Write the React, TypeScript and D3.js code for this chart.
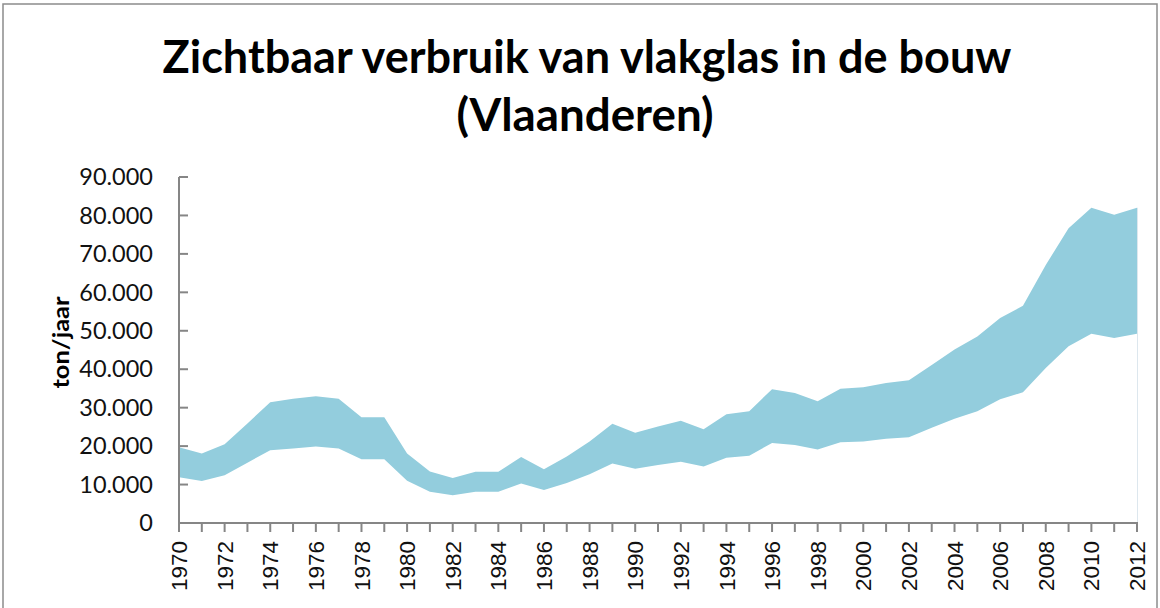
import React, { useEffect, useRef } from 'react';
import * as d3 from 'd3';

const WIDTH = 1160;
const HEIGHT = 608;
const PLOT = { left: 179, right: 1137, top: 177, bottom: 523 };

const TITLE_LINES = ['Zichtbaar verbruik van vlakglas in de bouw', '(Vlaanderen)'];
const Y_LABEL = 'ton/jaar';

const years = d3.range(1970, 2013);
// ondergrens en bovengrens (ton/jaar)
const lower = [
  11900, 10900, 12400, 15700, 18900, 19400, 19900, 19400, 16600, 16600,
  11000, 8100, 7200, 8100, 8100, 10300, 8600, 10400, 12700, 15500,
  14100, 15100, 15900, 14700, 17000, 17500, 20800, 20300, 19100, 21000,
  21200, 21900, 22300, 24800, 27100, 29100, 32200, 34000, 40300, 46000,
  49200, 48100, 49200,
];
const upper = [
  19700, 18100, 20500, 25900, 31400, 32300, 33000, 32300, 27500, 27500,
  18100, 13400, 11700, 13300, 13300, 17200, 14000, 17300, 21200, 25800,
  23500, 25100, 26600, 24400, 28300, 29100, 34800, 33800, 31700, 34900,
  35300, 36400, 37100, 41100, 45100, 48500, 53300, 56500, 67100, 76700,
  82000, 80200, 82000,
];
const yTicks = d3.range(0, 90001, 10000);
const xLabelYears = years.filter((y) => (y - 1970) % 2 === 0);

const AXIS_COLOR = '#868686';
const FILL = '#93cddd';

function App() {
  const ref = useRef<SVGSVGElement>(null);

  useEffect(() => {
    const svg = d3.select(ref.current);
    svg.selectAll('*').remove();

    const x = d3.scaleLinear().domain([1970, 2012]).range([PLOT.left, PLOT.right]);
    const y = d3.scaleLinear().domain([0, 90000]).range([PLOT.bottom, PLOT.top]);

    // kader
    svg.append('rect')
      .attr('x', 3).attr('y', 4)
      .attr('width', 1154).attr('height', 640)
      .attr('fill', 'none')
      .attr('stroke', '#8c8c8c')
      .attr('stroke-width', 1.5);

    // titel
    const title = svg.append('g')
      .attr('font-family', 'Lato, "Open Sans", sans-serif')
      .attr('font-weight', 700)
      .attr('font-size', 45)
      .attr('fill', '#000')
      .attr('text-anchor', 'middle');
    title.append('text')
      .attr('x', 587).attr('y', 73)
      .attr('textLength', 849)
      .attr('lengthAdjust', 'spacingAndGlyphs')
      .text(TITLE_LINES[0]);
    title.append('text')
      .attr('x', 585).attr('y', 131)
      .attr('textLength', 257)
      .attr('lengthAdjust', 'spacingAndGlyphs')
      .text(TITLE_LINES[1]);

    // band
    const data = years.map((yr, i) => ({ yr, lo: lower[i], hi: upper[i] }));
    const area = d3.area<{ yr: number; lo: number; hi: number }>()
      .x((d) => x(d.yr))
      .y0((d) => y(d.lo))
      .y1((d) => y(d.hi));
    svg.append('path')
      .datum(data)
      .attr('d', area)
      .attr('fill', FILL);

    // dunne lijn aan de rechterkant
    const last = data[data.length - 1];
    svg.append('line')
      .attr('x1', x(last.yr) + 0.5).attr('x2', x(last.yr) + 0.5)
      .attr('y1', y(last.hi)).attr('y2', PLOT.bottom)
      .attr('stroke', '#dde7ee')
      .attr('stroke-width', 1);

    // y-as
    const yAxis = svg.append('g');
    yAxis.append('line')
      .attr('x1', PLOT.left).attr('x2', PLOT.left)
      .attr('y1', PLOT.top).attr('y2', PLOT.bottom)
      .attr('stroke', AXIS_COLOR).attr('stroke-width', 2);
    yAxis.selectAll('line.tick')
      .data(yTicks)
      .enter().append('line')
      .attr('class', 'tick')
      .attr('x1', PLOT.left).attr('x2', PLOT.left + 9)
      .attr('y1', (d) => y(d)).attr('y2', (d) => y(d))
      .attr('stroke', AXIS_COLOR).attr('stroke-width', 2);
    yAxis.selectAll('text')
      .data(yTicks)
      .enter().append('text')
      .attr('x', 153)
      .attr('y', (d) => y(d))
      .attr('dy', '0.35em')
      .attr('text-anchor', 'end')
      .attr('font-family', 'Lato, "Open Sans", sans-serif')
      .attr('font-size', 23.5)
      .attr('fill', '#111')
      .text((d) => (d === 0 ? '0' : d3.format(',')(d).replace(/,/g, '.')));

    svg.append('text')
      .attr('transform', `translate(61, 342.5) rotate(-90)`)
      .attr('dy', '0.35em')
      .attr('text-anchor', 'middle')
      .attr('font-family', 'Lato, "Open Sans", sans-serif')
      .attr('font-weight', 700)
      .attr('font-size', 23)
      .attr('textLength', 92)
      .attr('lengthAdjust', 'spacingAndGlyphs')
      .attr('fill', '#000')
      .text(Y_LABEL);

    // x-as
    const xAxis = svg.append('g');
    xAxis.append('line')
      .attr('x1', PLOT.left - 1).attr('x2', PLOT.right + 1)
      .attr('y1', PLOT.bottom).attr('y2', PLOT.bottom)
      .attr('stroke', AXIS_COLOR).attr('stroke-width', 2);
    xAxis.selectAll('line.tick')
      .data(years)
      .enter().append('line')
      .attr('class', 'tick')
      .attr('x1', (d) => x(d)).attr('x2', (d) => x(d))
      .attr('y1', PLOT.bottom).attr('y2', PLOT.bottom + 9)
      .attr('stroke', AXIS_COLOR).attr('stroke-width', 2);
    xAxis.selectAll('text')
      .data(xLabelYears)
      .enter().append('text')
      .attr('transform', (d) => `translate(${x(d)}, 541) rotate(-90)`)
      .attr('dy', '0.36em')
      .attr('text-anchor', 'end')
      .attr('font-family', '"Liberation Sans", Arial, sans-serif')
      .attr('font-size', 22.5)
      .attr('fill', '#111')
      .text((d) => String(d));
  }, []);

  return (
    <svg
      ref={ref}
      width={WIDTH}
      height={HEIGHT}
      style={{ position: 'absolute', left: 0, top: 0, background: '#fff' }}
      xmlns="http://www.w3.org/2000/svg"
    />
  );
}

export default App;
